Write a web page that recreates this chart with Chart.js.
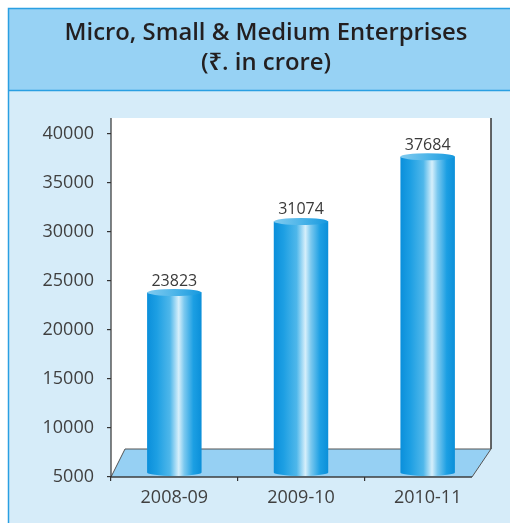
<!DOCTYPE html>
<html>
<head>
<meta charset="utf-8">
<script src="https://cdn.jsdelivr.net/npm/chart.js@4.4.1/dist/chart.umd.min.js"></script>
<style>
html,body{margin:0;padding:0;background:#fff;}
canvas{display:block;}
</style>
</head>
<body>
<canvas id="c" width="510" height="523"></canvas>
<script>
// ---- data ----
const categories = ['2008-09', '2009-10', '2010-11'];
const values = [23823, 31074, 37684];
const yTicks = [5000, 10000, 15000, 20000, 25000, 30000, 35000, 40000];
const titleLines = ['Micro, Small & Medium Enterprises', '(₹. in crore)'];

const FONT = '"Open Sans", "Noto Sans", sans-serif';

const decor = {
  id: 'decor',
  beforeDraw(chart) {
    const ctx = chart.ctx;
    const a = chart.chartArea;
    ctx.save();
    ctx.fillStyle = '#ffffff';
    ctx.fillRect(0, 0, chart.width, chart.height);
    ctx.fillStyle = '#d6ecf9';
    ctx.fillRect(8, 8, chart.width, chart.height);
    ctx.fillStyle = '#97d2f4';
    ctx.fillRect(8, 8, chart.width, 82);
    ctx.strokeStyle = '#2a9fe2';
    ctx.lineWidth = 1.5;
    ctx.beginPath();
    ctx.moveTo(8.5, chart.height + 5); ctx.lineTo(8.5, 8.5); ctx.lineTo(chart.width + 5, 8.5);
    ctx.moveTo(8, 90.5); ctx.lineTo(chart.width + 5, 90.5);
    ctx.stroke();
    // title text, sized to the reference width
    ctx.fillStyle = '#231f20';
    ctx.textAlign = 'center';
    ctx.textBaseline = 'alphabetic';
    ctx.font = '600 20px ' + FONT;
    const w0 = ctx.measureText(titleLines[0]).width;
    const size = 20 * 403 / w0;
    ctx.font = '600 ' + size.toFixed(2) + 'px ' + FONT;
    ctx.fillText(titleLines[0], 266, 40);
    ctx.fillText(titleLines[1], 266, 70);

    const depthX = 14, depthY = 28;
    const floorBack = a.bottom - depthY;
    ctx.fillStyle = '#ffffff';
    ctx.beginPath();
    ctx.moveTo(a.left, 118);
    ctx.lineTo(a.right, 118);
    ctx.lineTo(a.right, floorBack);
    ctx.lineTo(a.left + depthX, floorBack);
    ctx.lineTo(a.left, a.bottom);
    ctx.closePath();
    ctx.fill();
    ctx.strokeStyle = '#333';
    ctx.lineWidth = 1.5;
    ctx.beginPath();
    ctx.moveTo(a.right, 118);
    ctx.lineTo(a.right, floorBack);
    ctx.stroke();
    ctx.fillStyle = '#96d0f3';
    ctx.beginPath();
    ctx.moveTo(a.left, a.bottom);
    ctx.lineTo(a.left + depthX, floorBack);
    ctx.lineTo(a.right, floorBack);
    ctx.lineTo(a.right - 19, a.bottom);
    ctx.closePath();
    ctx.fill();
    ctx.strokeStyle = '#555';
    ctx.lineWidth = 1;
    ctx.stroke();
    ctx.strokeStyle = '#333';
    ctx.lineWidth = 1.2;
    ctx.beginPath();
    ctx.moveTo(a.left, 118);
    ctx.lineTo(a.left, a.bottom);
    ctx.lineTo(a.right - 19, a.bottom);
    ctx.stroke();
    ctx.restore();
  },
  afterDatasetsDraw(chart) {
    const ctx = chart.ctx;
    const meta = chart.getDatasetMeta(0);
    ctx.save();
    meta.data.forEach((el, i) => {
      const w = el.width;
      const l = el.x - w / 2, r = el.x + w / 2;
      const top = el.y, bottom = el.base - 4;
      const ry = 3.5;
      const g = ctx.createLinearGradient(l, 0, r, 0);
      g.addColorStop(0, '#0a8fdb');
      g.addColorStop(0.18, '#1d9fe3');
      g.addColorStop(0.42, '#4fb7ea');
      g.addColorStop(0.58, '#d6effb');
      g.addColorStop(0.68, '#7cc9ef');
      g.addColorStop(0.85, '#1c9fe3');
      g.addColorStop(1, '#0b8fd9');
      ctx.fillStyle = g;
      ctx.beginPath();
      ctx.moveTo(l, top);
      ctx.lineTo(l, bottom);
      ctx.ellipse(el.x, bottom, w / 2, ry, 0, Math.PI, 0, true);
      ctx.lineTo(r, top);
      ctx.closePath();
      ctx.fill();
      const tg = ctx.createLinearGradient(l, 0, r, 0);
      tg.addColorStop(0, '#82cbef');
      tg.addColorStop(0.5, '#4db5e9');
      tg.addColorStop(1, '#1598de');
      ctx.fillStyle = tg;
      ctx.beginPath();
      ctx.ellipse(el.x, top, w / 2, ry, 0, 0, Math.PI * 2);
      ctx.fill();
      ctx.fillStyle = '#3a3a3a';
      ctx.font = '16px ' + FONT;
      ctx.textAlign = 'center';
      ctx.textBaseline = 'alphabetic';
      ctx.fillText(String(values[i]), el.x, top - 7);
    });
    ctx.restore();
  }
};

new Chart(document.getElementById('c'), {
  type: 'bar',
  data: {
    labels: categories,
    datasets: [{
      data: values,
      base: 5000,
      backgroundColor: 'rgba(0,0,0,0)',
      borderWidth: 0,
      barPercentage: 0.43,
      categoryPercentage: 1
    }]
  },
  options: {
    responsive: false,
    animation: false,
    devicePixelRatio: 1,
    layout: { padding: { left: 0, right: 19, top: 134, bottom: 0 } },
    plugins: { legend: { display: false }, tooltip: { enabled: false }, title: { display: false } },
    scales: {
      y: {
        min: 5000, max: 40000,
        afterFit(s) { s.width = 111; },
        afterBuildTicks(s) { s.ticks = yTicks.map(v => ({ value: v })); },
        border: { display: false },
        grid: { drawOnChartArea: false, tickLength: 4, color: '#333', tickColor: '#333', lineWidth: 1.2 },
        ticks: { padding: 13, color: '#404040', font: { family: FONT, size: 18 }, callback: (v) => String(v) }
      },
      x: {
        afterFit(s) { s.height = 46; },
        border: { display: false },
        grid: {
          offset: true, drawOnChartArea: false, tickLength: 4, lineWidth: 1.2,
          tickColor: (c) => (c.type === 'tick' ? '#333' : 'rgba(0,0,0,0)'),
          color: '#333'
        },
        ticks: { padding: 6, color: '#404040', font: { family: FONT, size: 18 } }
      }
    }
  },
  plugins: [decor]
});
</script>
</body>
</html>
